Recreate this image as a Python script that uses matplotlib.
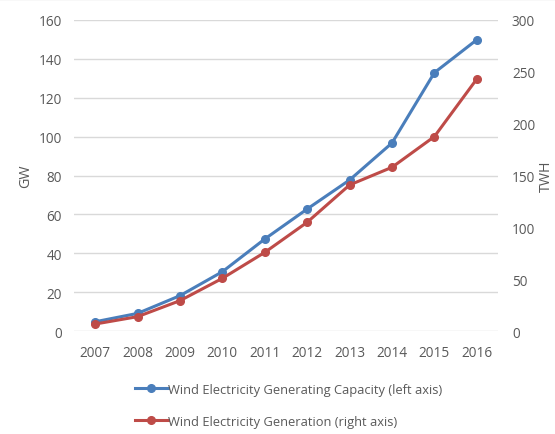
import matplotlib.pyplot as plt
from matplotlib.lines import Line2D

# dane
years = [2007, 2008, 2009, 2010, 2011, 2012, 2013, 2014, 2015, 2016]
capacity_gw = [4.9, 9.2, 18.3, 30.6, 47.4, 62.8, 77.7, 96.7, 132.8, 149.7]
generation_twh = [7.0, 14.1, 29.5, 51.0, 76.0, 105.0, 140.9, 157.9, 187.5, 242.9]

blue = '#4a7ebb'
red = '#be4b48'
grey = '#595959'

plt.rcParams['font.family'] = ['Open Sans', 'DejaVu Sans']

fig = plt.figure(figsize=(5.55, 4.35), dpi=100)
ax = fig.add_axes([74 / 555, 1 - 332.3 / 435, 424 / 555, 311.6 / 435])
ax2 = ax.twinx()

l1, = ax.plot(years, capacity_gw, '-o', color=blue, lw=2.2, ms=5.5,
              label='Wind Electricity Generating Capacity (left axis)')
l2, = ax2.plot(years, generation_twh, '-o', color=red, lw=2.2, ms=5.5,
               label='Wind Electricity Generation (right axis)')

ax.set_xlim(2006.5, 2016.5)
ax.set_ylim(0, 160)
ax2.set_ylim(0, 300)
ax.set_xticks(years)
ax.set_yticks(range(0, 161, 20))
ax2.set_yticks(range(0, 301, 50))
ax.grid(axis='y', color='#d9d9d9', lw=1)
ax.set_axisbelow(True)

for a in (ax, ax2):
    for s in a.spines.values():
        s.set_visible(False)
    a.tick_params(length=0, colors=grey, labelsize=9.8)
ax.tick_params(axis='y', pad=8.5)
ax2.tick_params(axis='y', pad=10)
ax.tick_params(axis='x', pad=10)

ax.set_ylabel('GW', color=grey, fontsize=10.3, labelpad=4)
ax2.set_ylabel('TWH', color=grey, fontsize=10.3, rotation=90, labelpad=2.5)

fig.legend(handles=[l1, l2], loc='upper left', bbox_to_anchor=(123 / 555, 1 - 372 / 435),
           frameon=False, handlelength=2.6, handletextpad=0.0, labelspacing=1.5,
           fontsize=9.3, labelcolor=grey, numpoints=1)

# cienka linia na gornej krawedzi obrazka
fig.add_artist(Line2D([0, 1], [0.999, 0.999], transform=fig.transFigure,
                      color='#e0e0e0', lw=1))

fig.savefig('out.png', dpi=100)
